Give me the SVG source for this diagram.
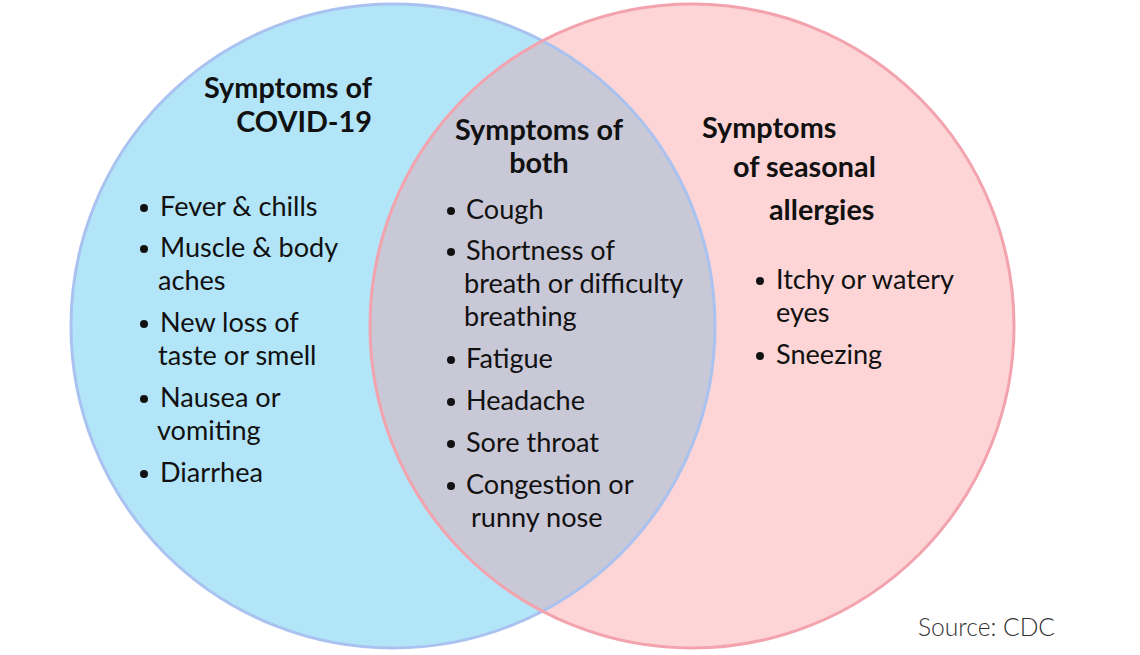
<svg xmlns="http://www.w3.org/2000/svg" width="1140" height="655" viewBox="0 0 1140 655">
<style>
.h{font-family:Lato,"Liberation Sans",sans-serif;font-weight:bold;font-size:28.8px;fill:#111}
.t{font-family:Lato,"Liberation Sans",sans-serif;font-size:27.1px;fill:#111}
.s{font-family:Lato,"Liberation Sans",sans-serif;font-weight:300;font-size:24.6px;fill:#333}
.b{fill:#111}
</style>
<defs>
<clipPath id="clipL"><circle cx="393" cy="326" r="322"/></clipPath>
</defs>
<rect width="1140" height="655" fill="#fff"/>
<g id="circles">
<circle cx="393" cy="326" r="322" fill="#b3e5f9"/>
<circle cx="692" cy="326" r="322" fill="#fdd5d6"/>
<circle cx="692" cy="326" r="322" fill="#c9c8d6" clip-path="url(#clipL)"/>
<circle cx="393" cy="326" r="322" fill="none" stroke="#a9c2f0" stroke-width="3"/>
<circle cx="692" cy="326" r="322" fill="none" stroke="#f2a3ad" stroke-width="3"/>
</g>
<g id="covid">
<text class="h" text-anchor="end" x="372" y="98">Symptoms of</text>
<text class="h" text-anchor="end" x="372" y="132">COVID-19</text>
<circle class="b" cx="144" cy="208" r="4"/><text class="t" x="160" y="216">Fever &amp; chills</text>
<circle class="b" cx="144" cy="249" r="4"/><text class="t" x="160" y="257">Muscle &amp; body</text>
<text class="t" x="158" y="290">aches</text>
<circle class="b" cx="144" cy="324" r="4"/><text class="t" x="160" y="332">New loss of</text>
<text class="t" x="158" y="365">taste or smell</text>
<circle class="b" cx="144" cy="399" r="4"/><text class="t" x="160" y="407">Nausea or</text>
<text class="t" x="157" y="440">vomiting</text>
<circle class="b" cx="144" cy="474" r="4"/><text class="t" x="160" y="482">Diarrhea</text>
</g>
<g id="both">
<text class="h" text-anchor="middle" x="539" y="140">Symptoms of</text>
<text class="h" text-anchor="middle" x="539" y="173">both</text>
<circle class="b" cx="451" cy="211" r="4"/><text class="t" x="466" y="219">Cough</text>
<circle class="b" cx="451" cy="252" r="4"/><text class="t" x="466" y="260">Shortness of</text>
<text class="t" x="464" y="293">breath or difficulty</text>
<text class="t" x="464" y="326">breathing</text>
<circle class="b" cx="451" cy="360" r="4"/><text class="t" x="466" y="368">Fatigue</text>
<circle class="b" cx="451" cy="402" r="4"/><text class="t" x="466" y="410">Headache</text>
<circle class="b" cx="451" cy="444" r="4"/><text class="t" x="466" y="452">Sore throat</text>
<circle class="b" cx="451" cy="486" r="4"/><text class="t" x="466" y="494">Congestion or</text>
<text class="t" x="471" y="527">runny nose</text>
</g>
<g id="allergies">
<text class="h" x="702" y="138">Symptoms</text>
<text class="h" x="733" y="177">of seasonal</text>
<text class="h" x="769" y="220">allergies</text>
<circle class="b" cx="760" cy="281" r="4"/><text class="t" x="776" y="289">Itchy or watery</text>
<text class="t" x="776" y="322">eyes</text>
<circle class="b" cx="760" cy="356" r="4"/><text class="t" x="776" y="364">Sneezing</text>
</g>
<text class="s" x="918" y="636">Source: CDC</text>
</svg>
